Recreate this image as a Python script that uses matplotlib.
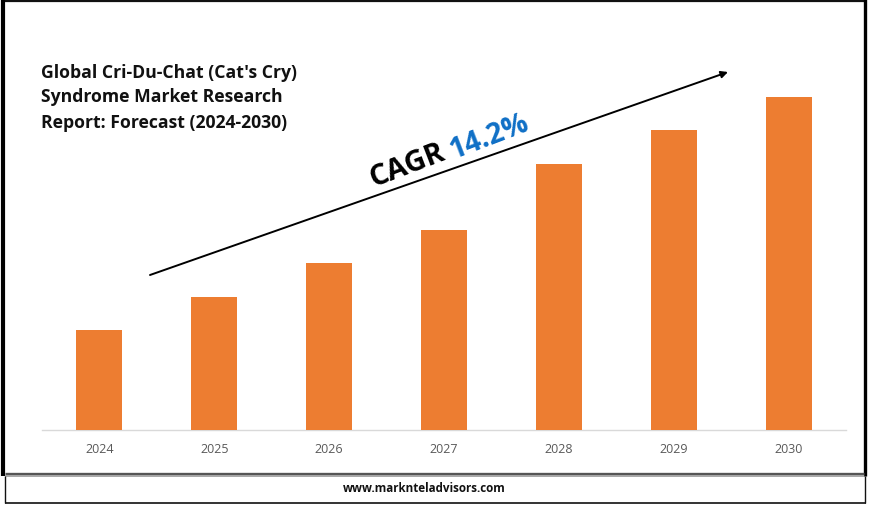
import matplotlib
matplotlib.use("Agg")
import matplotlib.pyplot as plt
from matplotlib.lines import Line2D

years = ["2024", "2025", "2026", "2027", "2028", "2029", "2030"]
values = [3, 4, 5, 6, 8, 9, 10]
title = "Global Cri-Du-Chat (Cat's Cry)\nSyndrome Market Research\nReport: Forecast (2024-2030)"
site = "www.marknteladvisors.com"

W, H = 870, 506
plt.rcParams['font.family'] = ['Open Sans', 'DejaVu Sans']
fig = plt.figure(figsize=(W / 100, H / 100), dpi=100, facecolor="white")

def fx(x): return x / W
def fy(y): return 1 - y / H

ax = fig.add_axes([fx(42), fy(430.5), 804 / W, 332.5 / H])
ax.bar(range(len(values)), values, width=0.4, color="#ED7D31", zorder=3, clip_on=False)
ax.set_xlim(-0.5, 6.5)
ax.set_ylim(0, 10)
ax.set_xticks(range(len(years)), years)
ax.set_yticks([])
ax.tick_params(axis="x", length=0, pad=9, labelsize=9, labelcolor="#595959")
for s in ("top", "left", "right"):
    ax.spines[s].set_visible(False)
ax.spines["bottom"].set_color("#D9D9D9")
ax.spines["bottom"].set_linewidth(1)
ax.patch.set_alpha(0)

def hline(x0, x1, y, lw, c):
    fig.add_artist(Line2D([fx(x0), fx(x1)], [fy(y), fy(y)], lw=lw, color=c, solid_capstyle="butt"))
def vline(x, y0, y1, lw, c):
    fig.add_artist(Line2D([fx(x), fx(x)], [fy(y0), fy(y1)], lw=lw, color=c, solid_capstyle="butt"))

hline(3, 866, 1.5, 1.6, "#111111")
vline(3.5, 0, 477, 3.0, "#000000")
vline(865, 0, 477, 2.4, "#000000")
hline(5, 864, 475, 2.4, "#555555")
hline(5, 864, 477, 1.4, "#A8A8A8")
vline(5.5, 477, 504, 1.0, "#111111")
vline(865.5, 477, 504, 1.0, "#111111")
hline(5, 866, 503.5, 1.2, "#111111")

fig.text(fx(41), fy(63.5), title, ha="left", va="top", fontsize=12.7, fontweight="bold",
         color="#111111", linespacing=1.5)
fig.text(fx(424), fy(489), site, ha="center", va="center", fontsize=8.4, fontweight="bold", color="#111111")

arrow = fig.add_axes([0, 0, 1, 1], facecolor="none")
arrow.set_xlim(0, W)
arrow.set_ylim(H, 0)
arrow.axis("off")
arrow.annotate("", xy=(728, 73), xytext=(150, 276),
               arrowprops=dict(arrowstyle="-|>", color="black", lw=1.4, mutation_scale=10, shrinkA=0, shrinkB=0))
rot = 21
arrow.text(373, 187, "CAGR", rotation=rot, rotation_mode="anchor", ha="left", va="baseline",
           fontsize=21, fontweight="bold", color="black")
arrow.text(453, 159, "14.2%", rotation=rot, rotation_mode="anchor", ha="left", va="baseline",
           fontsize=20.5, fontweight="bold", color="#0F6FC6")

fig.savefig("out.png", dpi=100)
